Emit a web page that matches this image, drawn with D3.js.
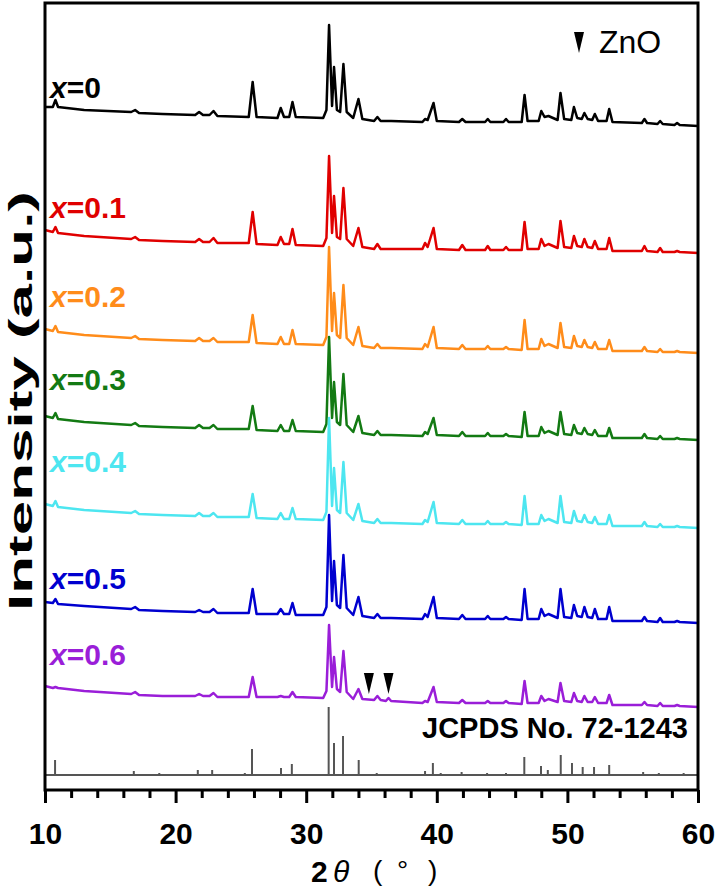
<!DOCTYPE html>
<html>
<head>
<meta charset="utf-8">
<title>XRD patterns</title>
<script src="https://d3js.org/d3.v7.min.js"></script>
<style>
  body { margin: 0; background: #fff; }
  svg { display: block; font-family: "Liberation Sans", Arial, sans-serif; }
</style>
</head>
<body>
<div id="chart"></div>
<script>
// 2theta positions shared by all measured patterns (peak feet and peak tops)
var theta = [10.0, 10.6, 10.8, 11.0, 13.0, 16.6, 16.9, 17.2, 19.0, 21.5,
  21.8, 22.1, 22.6, 22.9, 23.2, 25.6, 25.9, 26.2, 27.8, 28.05,
  28.3, 28.7, 28.95, 29.2, 31.3, 31.55, 31.75, 31.98, 32.13, 32.35,
  32.6, 32.85, 33.1, 33.6, 34.0, 34.3, 35.2, 35.45, 35.7, 36.1,
  36.3, 36.5, 38.9, 39.1, 39.3, 39.75, 40.0, 41.7, 41.95, 42.2,
  43.7, 43.9, 44.1, 45.1, 45.3, 45.5, 46.5, 46.72, 46.95, 47.8,
  48.0, 48.25, 48.55, 49.25, 49.47, 49.75, 50.3, 50.5, 50.75, 51.1,
  51.3, 51.55, 51.9, 52.1, 52.35, 53.0, 53.2, 53.45, 55.7, 55.9,
  56.1, 56.9, 57.1, 57.3, 58.2, 58.4, 58.6, 60.0];

// intensities (a.u.) above each pattern's own offset
var int00 = [20, 20, 27, 20, 17, 15, 17, 14, 13, 12,
  15, 12, 12, 16, 11, 10, 45, 10, 9, 19,
  10, 10, 25, 10, 9, 17, 102, 21, 60, 17,
  15, 63, 15, 9, 28, 8, 6, 10, 6, 6,
  6, 6, 5, 8, 7, 24, 6, 5, 8, 5,
  5, 8, 5, 5, 8, 5, 5, 32, 6, 6,
  16, 10, 11, 7, 34, 8, 7, 20, 9, 8,
  14, 8, 7, 13, 6, 6, 18, 5, 4, 8,
  4, 3, 6, 3, 2, 4, 2, 1];
var int01 = [23, 21, 26, 20, 17, 14, 16, 13, 12, 11,
  14, 11, 11, 15, 10, 10, 41, 9, 8, 16,
  9, 9, 24, 8, 7, 15, 97, 20, 57, 16,
  14, 65, 14, 7, 25, 6, 4, 9, 4, 4,
  4, 4, 4, 10, 6, 25, 4, 3, 8, 3,
  3, 7, 3, 3, 6, 3, 3, 31, 4, 4,
  14, 7, 9, 5, 32, 6, 5, 17, 7, 6,
  14, 6, 5, 12, 4, 4, 15, 2, 2, 7,
  2, 1, 5, 1, 1, 2, 1, 0];
var int02 = [24, 22, 27, 21, 18, 15, 17, 14, 13, 12,
  15, 12, 12, 15, 11, 11, 38, 10, 9, 16,
  9, 9, 23, 9, 8, 16, 106, 22, 60, 18,
  15, 68, 15, 8, 26, 7, 5, 9, 5, 5,
  5, 5, 4, 9, 6, 26, 5, 4, 8, 4,
  4, 7, 4, 4, 6, 4, 3, 33, 4, 4,
  14, 7, 9, 5, 30, 6, 5, 17, 7, 6,
  13, 6, 5, 11, 4, 4, 13, 2, 2, 6,
  2, 1, 4, 1, 1, 2, 1, 0];
var int03 = [24, 22, 27, 21, 18, 15, 17, 14, 13, 12,
  15, 12, 12, 15, 11, 11, 34, 10, 9, 15,
  9, 9, 20, 9, 8, 16, 103, 22, 58, 18,
  15, 66, 15, 8, 24, 7, 5, 9, 5, 5,
  5, 5, 4, 8, 6, 22, 5, 4, 8, 4,
  4, 7, 4, 4, 6, 4, 3, 28, 4, 4,
  13, 7, 9, 5, 28, 6, 5, 15, 7, 6,
  12, 6, 5, 10, 4, 4, 12, 2, 2, 6,
  2, 1, 4, 1, 1, 2, 1, 0];
var int04 = [24, 22, 27, 21, 18, 15, 17, 14, 13, 12,
  15, 12, 12, 15, 11, 11, 34, 10, 9, 15,
  9, 9, 20, 9, 8, 16, 110, 22, 60, 18,
  15, 66, 15, 8, 24, 7, 5, 9, 5, 5,
  5, 5, 4, 8, 6, 26, 5, 4, 8, 4,
  4, 7, 4, 4, 6, 4, 3, 32, 4, 4,
  13, 7, 9, 5, 32, 6, 5, 17, 7, 6,
  13, 6, 5, 11, 4, 4, 13, 2, 2, 6,
  2, 1, 4, 1, 1, 2, 1, 0];
var int05 = [21, 20, 24, 19, 17, 14, 16, 13, 12, 11,
  13, 11, 11, 14, 10, 10, 34, 9, 9, 14,
  9, 9, 20, 8, 8, 16, 108, 22, 62, 18,
  15, 68, 15, 8, 26, 7, 5, 9, 5, 5,
  5, 5, 4, 9, 6, 26, 5, 4, 8, 4,
  4, 7, 4, 4, 6, 4, 3, 34, 4, 4,
  14, 7, 9, 5, 34, 6, 5, 18, 7, 6,
  16, 6, 5, 14, 4, 4, 16, 2, 2, 6,
  2, 1, 5, 1, 1, 2, 1, 0];
var int06 = [21, 19, 20, 19, 16, 13, 15, 12, 11, 11,
  13, 11, 11, 14, 10, 10, 30, 10, 10, 11,
  10, 10, 15, 10, 9, 16, 82, 20, 50, 18,
  15, 56, 15, 8, 18, 8, 7, 11, 7, 6,
  9, 6, 4, 6, 5, 20, 5, 4, 7, 4,
  4, 6, 4, 4, 6, 4, 3, 26, 4, 4,
  11, 6, 8, 5, 24, 6, 5, 14, 6, 5,
  11, 5, 5, 10, 4, 4, 12, 2, 2, 5,
  2, 1, 4, 1, 1, 2, 1, 0];

var samples = ["0", "0.1", "0.2", "0.3", "0.4", "0.5", "0.6"];
var patterns = [int00, int01, int02, int03, int04, int05, int06];
var offsets = [663, 537, 437, 350, 262, 167, 83];
var colors = ["#000000", "#e00000", "#ff8c1a", "#137a13", "#4de6f0", "#0000cf", "#9a1ed8"];

// JCPDS No. 72-1243 reference lines
var refPos = [10.77, 16.8, 18.75, 21.7, 22.8, 25.3, 25.85, 28.07, 28.9, 31.72,
  32.13, 32.82, 34.02, 35.4, 39.1, 39.7, 40.3, 40.86, 41.9, 43.85,
  45.3, 46.7, 47.98, 48.5, 49.49, 50.35, 51.17, 52.04, 53.2, 54.5,
  55.8, 57.0, 57.86, 58.9];
var refInt = [15, 4, 2, 5, 5, 2, 26, 7, 11, 68,
  32, 39, 15, 2, 4, 12, 2, 1, 3, 2,
  2, 18, 9, 5, 20, 12, 8, 8, 10, 1,
  3, 2, 1, 2];
var refOffset = 15;

// ZnO marks on x=0.6
var znoPos = [34.8, 36.3];

var W = 716, H = 892;
var margin = {top: 3, right: 18, bottom: 102, left: 45};
var width = W - margin.left - margin.right,
    height = H - margin.top - margin.bottom;

var svg = d3.select("#chart").append("svg")
    .attr("width", W)
    .attr("height", H);

var g = svg.append("g")
    .attr("transform", "translate(" + margin.left + "," + margin.top + ")");

var x = d3.scaleLinear().domain([10, 60]).range([0, width]);
var y = d3.scaleLinear().domain([0, 787]).range([height, 0]);

var line = d3.line()
    .x(function(d) { return x(d[0]); })
    .y(function(d) { return y(d[1]); });

// measured patterns
patterns.forEach(function(p, k) {
  var pts = theta.map(function(t, i) { return [t, offsets[k] + p[i]]; });
  g.append("path")
      .datum(pts)
      .attr("d", line)
      .attr("fill", "none")
      .attr("stroke", colors[k])
      .attr("stroke-width", 2.5)
      .attr("stroke-linejoin", "round");
});

// labels
var labelY = [98, 218, 307, 390, 472, 589, 665];
samples.forEach(function(s, k) {
  var t = g.append("text")
      .attr("x", 5)
      .attr("y", labelY[k] - margin.top)
      .attr("fill", colors[k])
      .attr("font-size", 30)
      .attr("font-weight", "bold");
  t.append("tspan").attr("font-style", "italic").text("x");
  t.append("tspan").text("=" + s);
});

// reference pattern
g.append("line")
    .attr("x1", 0).attr("x2", width)
    .attr("y1", y(refOffset)).attr("y2", y(refOffset))
    .attr("stroke", "#555").attr("stroke-width", 2);
g.selectAll(".stick")
  .data(refPos)
  .enter().append("line")
    .attr("class", "stick")
    .attr("x1", function(d) { return x(d); })
    .attr("x2", function(d) { return x(d); })
    .attr("y1", y(refOffset))
    .attr("y2", function(d, i) { return y(refOffset + refInt[i]); })
    .attr("stroke", "#555")
    .attr("stroke-width", 2);

g.append("text")
    .attr("x", width - 10)
    .attr("y", 738 - margin.top)
    .attr("text-anchor", "end")
    .attr("font-size", 29)
    .attr("font-weight", "bold")
    .text("JCPDS No. 72-1243");

// ZnO triangles
function tri(cx, top) {
  return "M" + (cx - 5) + "," + top + "L" + (cx + 5) + "," + top + "L" + cx + "," + (top + 21) + "Z";
}
g.selectAll(".zno")
  .data(znoPos)
  .enter().append("path")
    .attr("class", "zno")
    .attr("d", function(d) { return tri(x(d), 673 - margin.top); })
    .attr("fill", "#000");

g.append("path").attr("d", tri(579 - margin.left, 32 - margin.top)).attr("fill", "#000");
g.append("text")
    .attr("x", 599 - margin.left)
    .attr("y", 53 - margin.top)
    .attr("font-size", 32)
    .text("ZnO");

// axes
var xAxis = g.append("g")
    .attr("transform", "translate(0," + height + ")")
    .call(d3.axisBottom(x).tickValues(d3.range(10, 61, 10)).tickSize(13).tickPadding(20).tickFormat(d3.format("d")));
xAxis.select(".domain").remove();
xAxis.selectAll(".tick line").attr("stroke-width", 3);
xAxis.selectAll("text")
    .attr("font-size", 30)
    .attr("font-weight", "bold")
    .attr("font-family", "Liberation Sans, Arial, sans-serif")
    .attr("fill", "#000");

var xMinor = g.append("g")
    .attr("transform", "translate(0," + height + ")")
    .call(d3.axisBottom(x).tickValues(d3.range(12, 60, 2).filter(function(v) { return v % 10 !== 0; })).tickSize(8).tickFormat(""));
xMinor.select(".domain").remove();
xMinor.selectAll(".tick line").attr("stroke-width", 3);

g.append("rect")
    .attr("x", 0).attr("y", 0)
    .attr("width", width).attr("height", height)
    .attr("fill", "none")
    .attr("stroke", "#000")
    .attr("stroke-width", 3);

// axis titles
var xt = svg.append("text")
    .attr("y", 882)
    .attr("font-size", 30);
xt.append("tspan").attr("x", 311).attr("font-weight", "bold").text("2");
xt.append("tspan").attr("x", 333).attr("font-style", "italic").text("\u03b8");
xt.append("tspan").attr("x", 373).attr("y", 880).attr("font-size", 28).text("(");
xt.append("tspan").attr("x", 397).attr("y", 880).attr("font-size", 28).text("\u00b0");
xt.append("tspan").attr("x", 428).attr("y", 880).attr("font-size", 28).text(")");

svg.append("text")
    .attr("transform", "translate(32," + 401 + ") rotate(-90)")
    .attr("text-anchor", "middle")
    .attr("font-size", 34)
    .attr("font-weight", "bold")
    .attr("textLength", 420)
    .attr("lengthAdjust", "spacingAndGlyphs")
    .text("Intensity (a.u.)");
</script>
</body>
</html>
